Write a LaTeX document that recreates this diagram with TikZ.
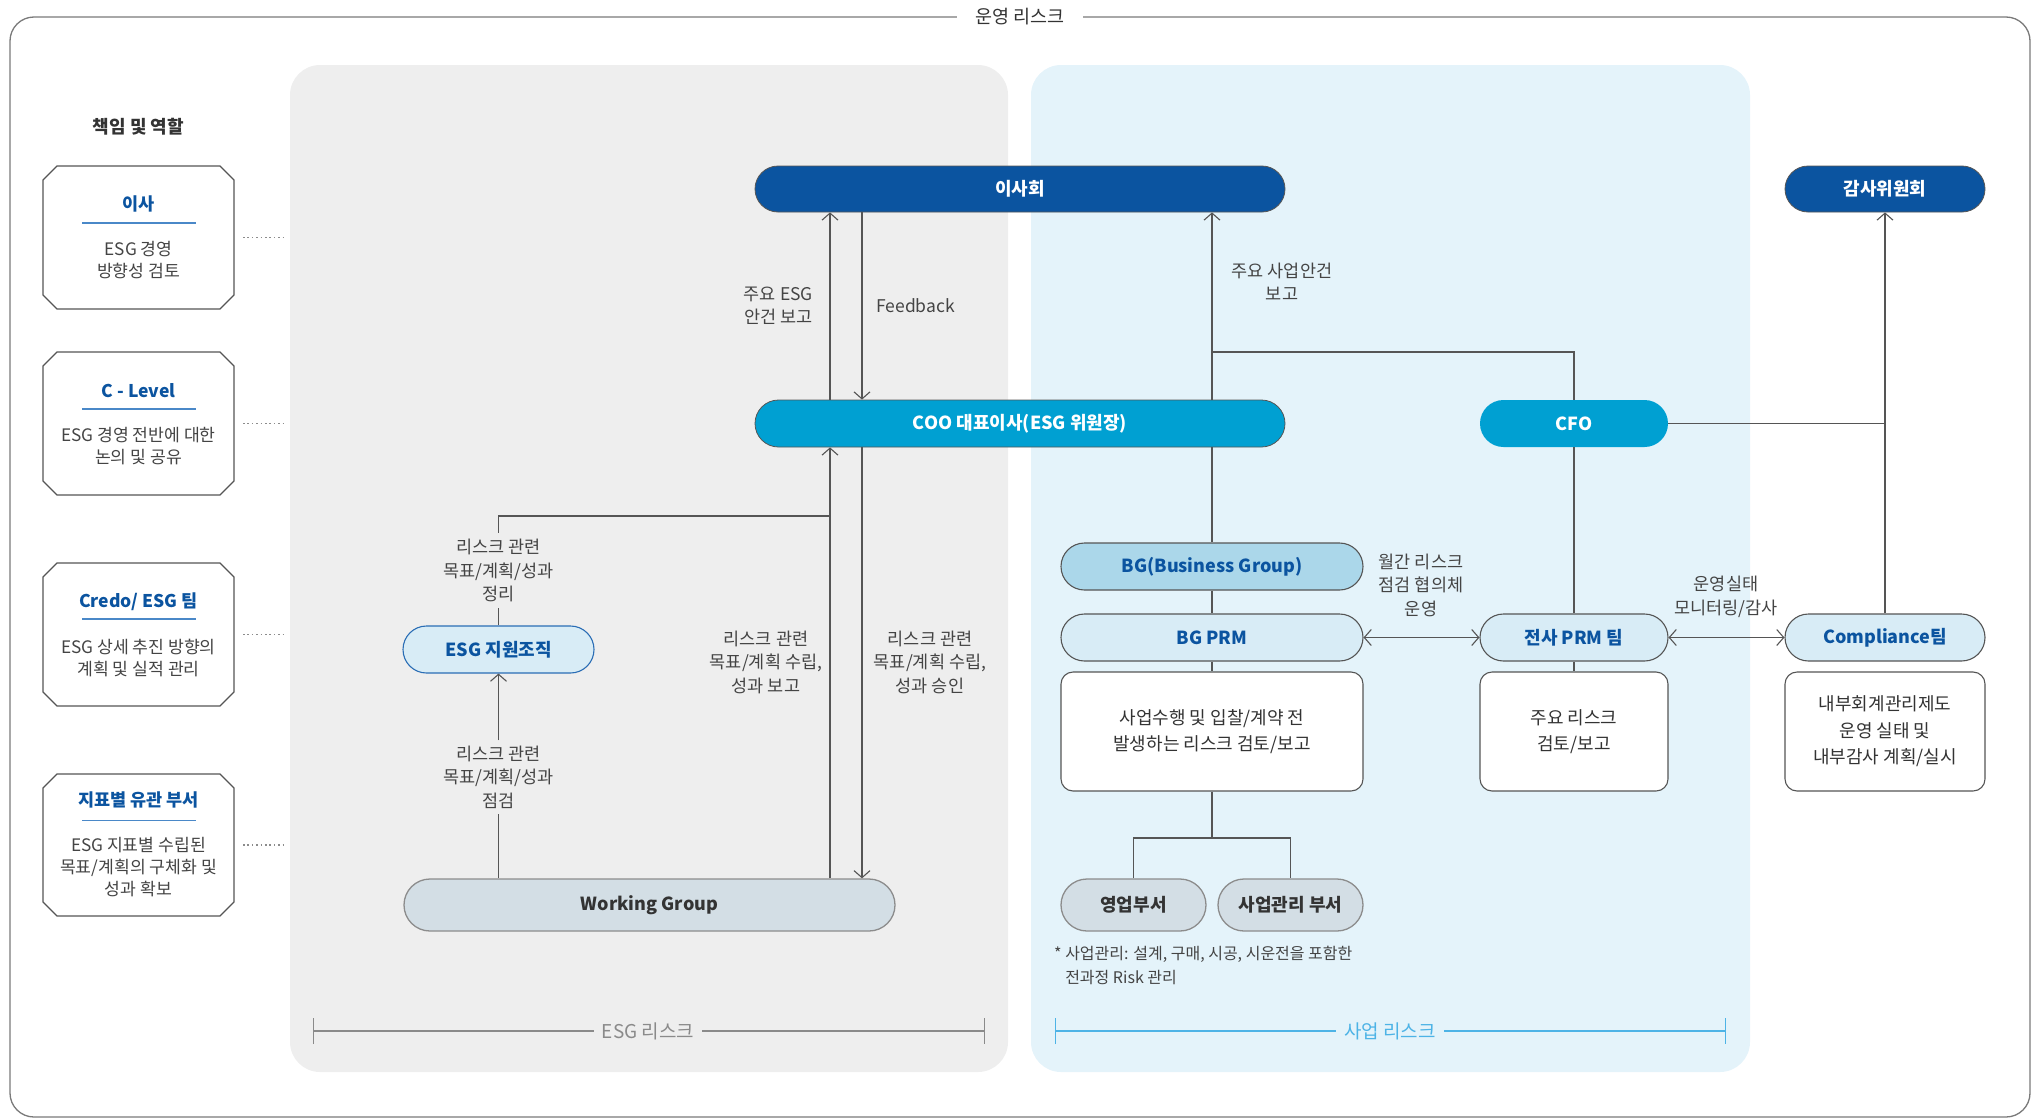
\documentclass[tikz,border=0pt]{standalone}
\usepackage{fontspec}
\setmainfont{Noto Sans CJK KR}
\usetikzlibrary{arrows.meta}
\definecolor{navy}{HTML}{0B54A0}
\definecolor{sky}{HTML}{00A0D2}
\definecolor{paleblue}{HTML}{D8ECF6}
\definecolor{bgblue}{HTML}{ABD7EA}
\definecolor{grayblue}{HTML}{D3DEE5}
\definecolor{panelgray}{HTML}{EEEEEE}
\definecolor{panelblue}{HTML}{E4F3FA}
\definecolor{txt}{HTML}{444444}
\definecolor{dtxt}{HTML}{333333}
\definecolor{linec}{HTML}{555555}
\definecolor{lightline}{HTML}{8C8C8C}
\definecolor{ulblue}{HTML}{4A88C8}
\definecolor{barblue}{HTML}{4DB3E6}
\definecolor{bargray}{HTML}{8A8A8A}
\definecolor{framec}{HTML}{7A7A7A}
\definecolor{esgborder}{HTML}{2A6DB5}
\tikzset{
  nodefont/.style={font=\fontsize{18}{21}\selectfont\bfseries},
  darkpill/.style={rectangle, rounded corners=23pt, minimum height=46pt, inner sep=0pt, fill=navy, draw=linec, line width=0.8pt, text=white, nodefont},
  skypill/.style={rectangle, rounded corners=23.5pt, minimum height=47pt, inner sep=0pt, fill=sky, draw=linec, line width=0.8pt, text=white, nodefont},
  lightpill/.style={rectangle, rounded corners=23.5pt, minimum height=47pt, inner sep=0pt, fill=paleblue, draw=linec, line width=1.1pt, text=navy, nodefont},
  graypill/.style={rectangle, rounded corners=26pt, minimum height=52pt, inner sep=0pt, fill=grayblue, draw=lightline, line width=1.3pt, text=dtxt, nodefont},
  whitebox/.style={rectangle, rounded corners=12pt, minimum height=119pt, inner sep=0pt, fill=white, draw=linec, line width=1.1pt, text=dtxt, align=center, font=\fontsize{18}{26.5}\selectfont},
  lbl/.style={align=center, text=txt, font=\fontsize{17.5}{23.5}\selectfont, inner sep=3pt},
  conn/.style={draw=linec, line width=1.1pt},
  arr/.style={conn, -{Straight Barb[length=7pt,width=16pt]}},
  darr/.style={conn, {Straight Barb[length=7pt,width=16pt]}-{Straight Barb[length=7pt,width=16pt]}},
  rolebox/.style={draw=linec, line width=1.1pt, fill=white},
  roletitle/.style={text=navy, font=\fontsize{17.5}{20}\selectfont\bfseries, inner sep=0pt},
  rolebody/.style={text=txt, align=center, font=\fontsize{17.2}{22}\selectfont, inner sep=0pt},
  dotline/.style={draw=lightline, line width=1.6pt, dash pattern=on 1.6pt off 2.8pt},
  ulline/.style={draw=ulblue, line width=1.8pt},
  barfont/.style={font=\fontsize{19}{22}\selectfont},
}
\begin{document}
\begin{tikzpicture}[x=1pt,y=-1pt]
\useasboundingbox (0,0) rectangle (2037,1119);
% outer frame and panels
\draw[framec, line width=1.3pt, rounded corners=24pt] (10,17) rectangle (2030,1117);
\fill[panelgray, rounded corners=30pt] (290,65) rectangle (1008,1072);
\fill[panelblue, rounded corners=30pt] (1031,65) rectangle (1750,1072);
\node[fill=white, inner xsep=18pt, inner ysep=4pt, text=dtxt, font=\fontsize{18.5}{21}\selectfont] (ttl) at (1020,17) {운영 리스크};

% role column
\node[font=\fontsize{18}{21}\selectfont\bfseries, text=dtxt] (rt) at (138.5,127) {책임 및 역할};
\foreach \t/\b in {166/309,352/495,563/706,774/916} {
  \draw[rolebox] (43,\t+14) -- (57,\t) -- (220,\t) -- (234,\t+14) -- (234,\b-14) -- (220,\b) -- (57,\b) -- (43,\b-14) -- cycle;
}
\node[roletitle] (t1) at (138.5,204) {이사};
\draw[ulline] (82,223) -- (196,223);
\node[rolebody] (d1) at (138.5,260) {ESG 경영\\방향성 검토};
\node[roletitle] (t2) at (138.5,391) {C - Level};
\draw[ulline] (82,409) -- (196,409);
\node[rolebody] (d2) at (138.5,446) {ESG 경영 전반에 대한\\논의 및 공유};
\node[roletitle] (t3) at (138.5,602) {Credo/ ESG 팀};
\draw[ulline] (82,619) -- (196,619);
\node[rolebody] (d3) at (138.5,657.5) {ESG 상세 추진 방향의\\계획 및 실적 관리};
\node[roletitle] (t4) at (138.5,800) {지표별 유관 부서};
\draw[ulline] (82,820.5) -- (196,820.5);
\node[rolebody] (d4) at (138.5,867.5) {ESG 지표별 수립된\\목표/계획의 구체화 및\\성과 확보};
\foreach \y/\n in {237.5/1,423.5/2,634.5/3,845/4} {
  \coordinate (dl\n) at (243,\y);
  \draw[dotline] (dl\n) -- ++(41,0);
}

% main nodes
\node[darkpill, minimum width=530pt] (bod) at (1020,189) {이사회};
\node[darkpill, minimum width=200pt] (audit) at (1885,189) {감사위원회};
\node[skypill, minimum width=530pt] (coo) at (1020,423.5) {COO 대표이사(ESG 위원장)};
\node[skypill, minimum width=188pt, draw=none] (cfo) at (1574,423.5) {CFO};
\node[lightpill, minimum width=191pt, draw=esgborder] (esgs) at (498.5,649.5) {ESG 지원조직};
\node[graypill, minimum width=491pt] (wg) at (649.5,905) {Working Group};
\node[lightpill, fill=bgblue, minimum width=302pt] (bg) at (1212,566.5) {BG(Business Group)};
\node[lightpill, minimum width=302pt] (bgprm) at (1212,637.5) {BG PRM};
\node[whitebox, minimum width=302pt] (bgbox) at (1212,731.5) {사업수행 및 입찰/계약 전\\발생하는 리스크 검토/보고};
\node[lightpill, minimum width=188pt] (cprm) at (1574,637.5) {전사 PRM 팀};
\node[whitebox, minimum width=188pt] (cbox) at (1574,731.5) {주요 리스크\\검토/보고};
\node[lightpill, minimum width=200pt] (comp) at (1885,637.5) {Compliance팀};
\node[whitebox, minimum width=200pt] (compbox) at (1885,731.5) {내부회계관리제도\\운영 실태 및\\내부감사 계획/실시};
\node[graypill, minimum width=145pt] (sales) at (1133.5,905) {영업부서};
\node[graypill, minimum width=145pt] (pm) at (1290.5,905) {사업관리 부서};

% ESG side connectors
\coordinate (xa) at (830,0);
\coordinate (xb) at (862,0);
\draw[arr] (coo.north -| xa) -- (bod.south -| xa);
\draw[arr] (bod.south -| xb) -- (coo.north -| xb);
\draw[arr] (wg.north -| xa) -- (coo.south -| xa);
\draw[arr] (coo.south -| xb) -- (wg.north -| xb);
\node[lbl, inner ysep=6pt] (l5) at (498.5,570.5) {리스크 관련\\목표/계획/성과\\정리};
\coordinate (j0) at (498.5,516);
\draw[conn] (esgs.north) -- (l5.south);
\draw[conn] (l5.north) -- (j0) -- (j0 -| xa);
\node[lbl, inner ysep=5pt] (l6) at (498.5,777) {리스크 관련\\목표/계획/성과\\점검};
\draw[conn] (wg.north -| esgs) -- (l6.south);
\draw[arr] (l6.north) -- (esgs.south);

\node[lbl, anchor=east, align=right] (l1) at (816,306) {주요 ESG\\안건 보고};
\node[lbl, anchor=west] (l2) at (873,306) {Feedback};
\node[lbl] (l3) at (766,662) {리스크 관련\\목표/계획 수립,\\성과 보고};
\node[lbl] (l4) at (930,662) {리스크 관련\\목표/계획 수립,\\성과 승인};

% business side connectors
\draw[conn] (coo.south -| bg.north) -- (bg.north);
\draw[arr] (coo.north -| bg.north) -- (bod.south -| bg.north);
\coordinate (j1) at (1212,352);
\draw[conn] (j1) -| (cfo.north);
\draw[conn] (cfo.south) -- (cprm.north);
\draw[conn] (cfo.east) -- (cfo.east -| comp.north);
\draw[arr] (comp.north) -- (audit.south);
\draw[conn] (bg.south) -- (bgprm.north);
\draw[conn] (bgprm.south) -- (bgbox.north);
\draw[conn] (cprm.south) -- (cbox.north);
\coordinate (j2) at (1212,838);
\draw[conn] (bgbox.south) -- (j2);
\draw[conn] (sales.north) |- (j2) -| (pm.north);
\draw[darr] (bgprm.east) -- (cprm.west);
\draw[darr] (cprm.east) -- (comp.west);

\node[lbl] (l7) at (1282,282) {주요 사업안건\\보고};
\node[lbl] (l8) at (1421,585) {월간 리스크\\점검 협의체\\운영};
\node[lbl] (l9) at (1726,597) {운영실태\\모니터링/감사};

\node[anchor=west, align=left, text=txt, font=\fontsize{16}{24}\selectfont, inner sep=0pt] (fn) at (1054,965) {* 사업관리: 설계, 구매, 시공, 시운전을 포함한\\\phantom{* }전과정 Risk 관리};

% scale bars
\coordinate (e1) at (313,1031);
\coordinate (e2) at (985,1031);
\draw[bargray, line width=1.3pt, {Bar[width=26pt]}-{Bar[width=26pt]}] (e1) -- (e2);
\node[fill=panelgray, text=bargray, inner xsep=8pt, barfont] (esgl) at (648,1031) {ESG 리스크};
\coordinate (e3) at (1055,1031);
\coordinate (e4) at (1726,1031);
\draw[barblue, line width=1.3pt, {Bar[width=26pt]}-{Bar[width=26pt]}] (e3) -- (e4);
\node[fill=panelblue, text=barblue, inner xsep=8pt, barfont] (bizl) at (1390,1031) {사업 리스크};
\end{tikzpicture}
\end{document}
